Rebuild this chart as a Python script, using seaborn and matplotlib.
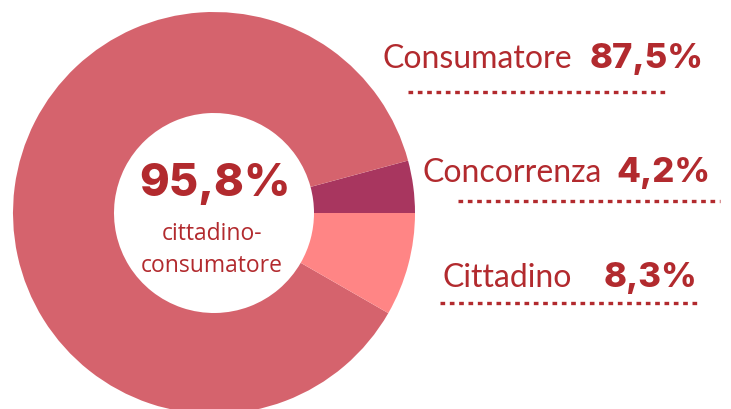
import matplotlib
matplotlib.use("Agg")
import matplotlib.pyplot as plt
import seaborn as sns

# ─── Data ──────────────────────────────────────────────────────────
categories = ["Concorrenza", "Consumatore", "Cittadino"]
shares = [4.2, 87.5, 8.3]
share_labels = ["4,2%", "87,5%", "8,3%"]
center_value = "95,8%"
center_caption = ["cittadino-", "consumatore"]

# ─── Style ──────────────────────────────────────────────────────────
sns.set_theme(style="white")
plt.rcParams["font.family"] = ["Lato", "DejaVu Sans"]
colors = sns.color_palette(["#A8365F", "#D5636D", "#FF8585"])
TEXT = "#B22A2E"
NUM_FONT = ["Inter", "DejaVu Sans"]
CAP_FONT = ["Open Sans", "DejaVu Sans"]

W, H = 731, 409


def Y(y):
    # pixel row (from top) -> data y
    return H - y


fig = plt.figure(figsize=(W / 100, H / 100), dpi=100)
ax = fig.add_axes([0, 0, 1, 1])

# ─── Donut ──────────────────────────────────────────────────────────
ax.pie(shares, colors=colors, startangle=0, counterclock=True,
       center=(214, Y(213)), radius=201,
       wedgeprops=dict(width=101, linewidth=0), frame=True)
ax.set_xlim(0, W)
ax.set_ylim(0, H)
ax.set_aspect("equal")
ax.axis("off")

ax.text(215, Y(196), center_value, ha="center", va="baseline",
        fontsize=32.5, fontweight=800, color=TEXT, family=NUM_FONT)
ax.text(212, Y(240), center_caption[0], ha="center", va="baseline",
        fontsize=16.5, color=TEXT, family=CAP_FONT)
ax.text(212, Y(272), center_caption[1], ha="center", va="baseline",
        fontsize=16.5, color=TEXT, family=CAP_FONT)

# ─── Callouts ───────────────────────────────────────────────────────
# (label x, baseline, number right edge, dots y, dots x0, dots x1)
callouts = {
    "Consumatore": (382, 68, 704, 92, 408, 668),
    "Concorrenza": (423, 182, 710, 201, 458, 720),
    "Cittadino":   (442, 287, 697, 303, 440, 700),
}
for cat, lab in zip(categories, share_labels):
    lx, base, nx, dy, x0, x1 = callouts[cat]
    ax.text(lx, Y(base), cat, ha="left", va="baseline",
            fontsize=23, color=TEXT)
    ax.text(nx, Y(base), lab, ha="right", va="baseline",
            fontsize=25, fontweight=800, color=TEXT, family=NUM_FONT)
    ax.plot([x0, x1], [Y(dy), Y(dy)], color=TEXT, linewidth=2.4,
            linestyle=(0, (1.4, 1.4)), solid_capstyle="butt",
            dash_capstyle="butt")

fig.savefig("out.png", dpi=100, facecolor="white")
